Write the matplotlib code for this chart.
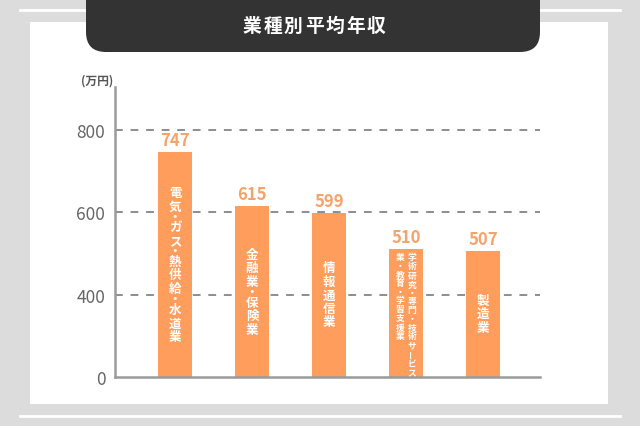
import numpy as np
import matplotlib
matplotlib.use("Agg")
import matplotlib.pyplot as plt
from matplotlib.patches import Rectangle, FancyBboxPatch

plt.rcParams['font.family'] = ['Noto Sans CJK JP', 'DejaVu Sans']

# ---- data ----
title = "業種別平均年収"
unit_label = "(万円)"
categories = ["電気・ガス・熱供給・水道業", "金融業・保険業", "情報通信業",
              "学術研究・専門・技術サービス業・教育・学習支援業", "製造業"]
# vertical label columns (right column first, as read in vertical Japanese)
label_columns = [["電気・ガス・熱供給・水道業"], ["金融業・保険業"], ["情報通信業"],
                 ["学術研究・専門・技術サービス", "業・教育・学習支援業"], ["製造業"]]
values = [747, 615, 599, 510, 507]
yticks = [0, 400, 600, 800]
ytick_labels = ["0", "400", "600", "800"]

W, H = 640, 427
fig = plt.figure(figsize=(6.4, 4.27), dpi=100, facecolor='#dcdcdc')

# background decoration axes in pixel coordinates
bg = fig.add_axes([0, 0, 1, 1], zorder=0)
bg.set_xlim(0, W)
bg.set_ylim(H, 0)
bg.axis('off')
bg.add_patch(Rectangle((30, 23), 578, 382, facecolor='white', edgecolor='none', zorder=1))
bg.plot([20, 620], [11, 11], color='white', lw=2, zorder=0.5)
bg.plot([20, 620], [417, 417], color='white', lw=2, zorder=0.5)
bg.add_patch(FancyBboxPatch((86, -40), 454, 93, boxstyle="round,pad=0,rounding_size=20",
                            facecolor='#333333', edgecolor='none', zorder=3))
pitch = 20.6
x0 = 314 - pitch * (len(title) - 1) / 2
for k, ch in enumerate(title):
    bg.text(x0 + k * pitch, 26, ch, color='white', fontsize=13.5, fontweight='bold',
            ha='center', va='center', zorder=4)

# main axes
ax = fig.add_axes([115 / W, 1 - 378 / H, (540 - 115) / W, (378 - 88) / H], zorder=1)
ax.patch.set_alpha(0)


def fwd(v):
    v = np.asarray(v, dtype=float)
    return np.where(v <= 400, v / 400.0, 1 + (v - 400) / 200.0)


def inv(u):
    u = np.asarray(u, dtype=float)
    return np.where(u <= 1, u * 400.0, 400 + (u - 1) * 200.0)


ax.set_yscale('function', functions=(fwd, inv))
ax.set_ylim(0, 905)
ax.set_xlim(-0.78, 4.74)

x = np.arange(len(values))
ax.bar(x, values, width=0.44, color='#fe9d5c', zorder=2)

ax.set_yticks(yticks)
ax.set_yticklabels(ytick_labels)
ax.tick_params(axis='y', length=0, pad=7, labelsize=12.5, labelcolor='#666666')
ax.set_xticks([])
for s in ['top', 'right']:
    ax.spines[s].set_visible(False)
for s in ['left', 'bottom']:
    ax.spines[s].set_color('#9a9a9a')
    ax.spines[s].set_linewidth(1.8)
ax.set_axisbelow(True)
for t in yticks[1:]:
    ax.axhline(t, color='#8a8d94', lw=1.4, linestyle=(0, (4, 4)), zorder=1)

ax.text(-0.78 - 0.02, 905, unit_label, transform=ax.transData, ha='right', va='bottom',
        fontsize=8.5, color='#555555', fontweight='bold')

# value labels
for i, v in enumerate(values):
    ax.annotate(str(v), xy=(i, v), xytext=(0, 3), textcoords='offset pixels',
                ha='center', va='bottom', fontsize=12, fontweight='bold', color='#f5a36b')

# vertical labels inside bars
fig.canvas.draw()


def draw_column(i, text, xoff, top_px, p, dotp, fs):
    p0 = ax.transData.transform((i, 0))[1]
    y = top_px
    for ch in text:
        step = dotp if ch == '・' else p
        cy = y - step / 2
        rot = 90 if ch == 'ー' else 0
        ax.annotate(ch, xy=(i, 0), xytext=(xoff, cy - p0), textcoords='offset pixels',
                    ha='center', va='center', fontsize=fs, fontweight='bold',
                    color='white', rotation=rot, annotation_clip=False)
        y -= step


for i, cols in enumerate(label_columns):
    p0 = ax.transData.transform((i, 0))[1]
    p1 = ax.transData.transform((i, values[i]))[1]
    if len(cols) == 1:
        p, dotp = 13.5, 7.5
        txt = cols[0]
        total = sum(dotp if c == '・' else p for c in txt)
        top = (p0 + p1) / 2 + total / 2
        draw_column(i, txt, 0, top, p, dotp, 9)
    else:
        p, dotp = 9.0, 8.0
        offs = [6, -6]
        for col, xo in zip(cols, offs):
            draw_column(i, col, xo, p1 - 3, p, dotp, 6.3)

fig.savefig('out.png', dpi=100, facecolor=fig.get_facecolor())
